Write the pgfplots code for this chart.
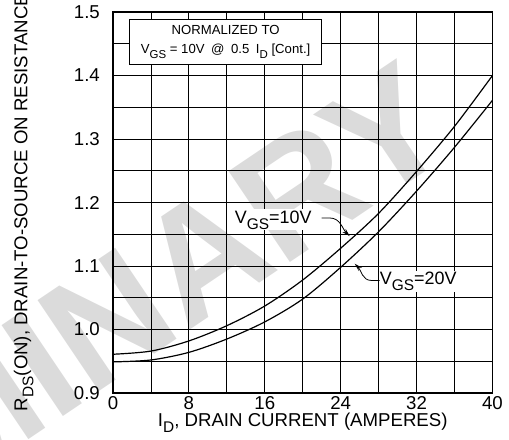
\documentclass[border=0pt]{standalone}
\usepackage{fontspec}
\setmainfont{Liberation Sans}
\usepackage{pgfplots}
\pgfplotsset{compat=1.18}
\usetikzlibrary{arrows.meta}
\newcommand{\sub}[1]{\raisebox{-6bp}{\fontsize{15.5}{15.5}\selectfont #1}}
\newcommand{\ssub}[1]{\raisebox{-4.5bp}{\fontsize{11.5}{11.5}\selectfont #1}}
\begin{document}
\begin{tikzpicture}
% watermark
\node[text=black!14, font=\fontsize{160}{160}\selectfont\bfseries, rotate=34, anchor=center] at (-136bp,-15bp) {PRELIMINARY};
\begin{axis}[
  at={(0,0)}, anchor=south west,
  scale only axis, width=379.5bp, height=381bp,
  xmin=0, xmax=40, ymin=0.9, ymax=1.5,
  xtick={0,8,16,24,32,40}, minor xtick={4,12,20,28,36},
  ytick={0.9,1.0,1.1,1.2,1.3,1.4,1.5},
  minor ytick={0.95,1.05,1.15,1.25,1.35,1.45},
  grid=both,
  major grid style={black, line width=0.8pt},
  minor grid style={black, line width=0.8pt},
  major tick length=0pt, minor tick length=0pt,
  axis line style={line width=1.6pt},
  /pgf/number format/assume math mode=true,
  tick label style={font=\fontsize{18.7}{18.7}\selectfont},
  yticklabel style={/pgf/number format/fixed, /pgf/number format/precision=1, /pgf/number format/fixed zerofill, inner sep=0pt, anchor=east, xshift=-13bp},
  xticklabel style={inner sep=0pt, anchor=north, yshift=-3.5bp},
  xlabel={I\sub{D}, DRAIN CURRENT (AMPERES)},
  xlabel style={at={(axis description cs:0.5,0)}, anchor=north, yshift=-20bp, inner sep=0pt, font=\fontsize{18.7}{18.7}\selectfont},
  ylabel={R\sub{DS}(ON), DRAIN-TO-SOURCE ON RESISTANCE},
  ylabel style={at={(axis description cs:-0.2617,0.5)}, anchor=north, inner sep=0pt, font=\fontsize{18.7}{18.7}\selectfont},
  clip=false,
]
\addplot[black, line width=1.2pt, smooth] coordinates {
(0,0.961) (4,0.966) (8,0.982) (12,1.006) (16,1.037) (20,1.078) (24,1.128) (28,1.183) (32,1.249) (36,1.320) (40,1.400)};
\addplot[black, line width=1.2pt, smooth] coordinates {
(0,0.949) (4,0.952) (8,0.964) (12,0.985) (16,1.012) (20,1.048) (24,1.098) (28,1.154) (32,1.218) (36,1.287) (40,1.361)};
% box
\node[draw, line width=0.9pt, fill=white, minimum width=191.7bp, minimum height=45bp, inner sep=0pt, align=center, font=\fontsize{13.2}{20}\selectfont] at (axis cs:11.87,1.4532) {NORMALIZED TO\\V\ssub{GS} = 10V\enspace@\enspace0.5\enspace I\ssub{D} [Cont.]};
% annotations
\node[fill=white, inner sep=1bp, anchor=base west, font=\fontsize{18}{18}\selectfont] at (axis cs:12.72,1.1677) {V\sub{GS}=10V};
\draw[line width=0.8pt, -{Stealth[length=8pt,width=4.5pt]}] (axis cs:22.0,1.1756) -- (axis cs:22.85,1.1756) to[out=0,in=135] (axis cs:24.95,1.147);
\node[fill=white, inner sep=1bp, anchor=base west, font=\fontsize{18}{18}\selectfont] at (axis cs:28.0,1.0706) {V\sub{GS}=20V};
\draw[line width=0.8pt, -{Stealth[length=8pt,width=4.5pt]}] (axis cs:28.11,1.0772) -- (axis cs:27.24,1.0772) to[out=180,in=-45] (axis cs:25.48,1.1036);
\end{axis}
\pgfresetboundingbox
\path[use as bounding box] (-113bp,-47bp) rectangle (396bp,393bp);
\end{tikzpicture}
\end{document}
